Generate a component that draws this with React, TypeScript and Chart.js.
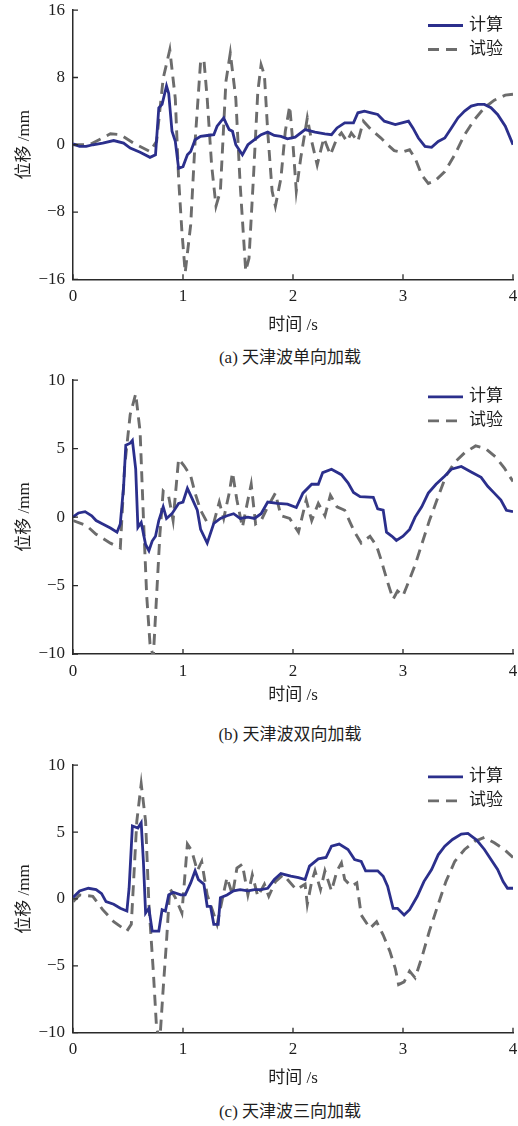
import React, { useEffect, useRef } from "react";
import { Chart, registerables } from "chart.js";

Chart.register(...registerables);

type P = [number, number];

// ---- labels ----
const seriesNames = ["计算", "试验"];
const xTitle = "时间 /s";
const yTitle = "位移 /mm";
const captions = ["(a) 天津波单向加载", "(b) 天津波双向加载", "(c) 天津波三向加载"];
const xTicks = [0, 1, 2, 3, 4];
const yTicksA = [-16, -8, 0, 8, 16];
const yTicksBC = [-10, -5, 0, 5, 10];

// ---- data: [time s, displacement mm] ----
const calcA: P[] = [
  [0, 0.1], [0.06, -0.2], [0.12, -0.2], [0.18, 0], [0.27, 0.2], [0.37, 0.5], [0.46, 0.2], [0.52, -0.4], [0.61, -0.9], [0.7, -1.5],
  [0.75, -1.2], [0.78, 4.4], [0.81, 4.8], [0.85, 7.0], [0.87, 6.1], [0.9, 1.6], [0.93, 0.4], [0.96, -2.8], [1.0, -2.6], [1.04, -1.2],
  [1.07, -0.8], [1.11, 0.6], [1.16, 1.0], [1.22, 1.1], [1.28, 1.2], [1.31, 2.2], [1.37, 3.2], [1.39, 2.6], [1.42, 1.8], [1.45, 1.6],
  [1.48, 0], [1.54, -1.2], [1.59, 0], [1.65, 0.6], [1.71, 1.2], [1.77, 1.5], [1.83, 1.1], [1.89, 1.0], [1.95, 0.7], [2.02, 0.9],
  [2.11, 1.8], [2.2, 1.5], [2.29, 1.3], [2.35, 1.2], [2.4, 2.0], [2.47, 2.6], [2.55, 2.6], [2.59, 3.8], [2.65, 4.0], [2.71, 3.8],
  [2.77, 3.6], [2.83, 2.8], [2.93, 2.4], [2.99, 2.6], [3.05, 2.8], [3.09, 2.0], [3.14, 0.8], [3.2, -0.2], [3.26, -0.3], [3.32, 0.4],
  [3.38, 0.8], [3.44, 2.0], [3.5, 3.2], [3.56, 4.0], [3.62, 4.6], [3.68, 4.8], [3.74, 4.8], [3.8, 4.4], [3.86, 3.6], [3.93, 2.2],
  [4.0, 0.0],
];
const testA: P[] = [
  [0, 0], [0.15, 0], [0.34, 1.3], [0.43, 1.2], [0.55, 0.2], [0.7, -0.8], [0.76, 0.4], [0.82, 7.9], [0.88, 11.3], [0.93, 5.5],
  [0.96, -4], [0.99, -10.3], [1.02, -15.2], [1.07, -9.5], [1.11, 0.4], [1.16, 9.9], [1.19, 10.1], [1.22, 5.5], [1.26, -2.4], [1.3, -7.3],
  [1.34, -5.5], [1.39, 7.5], [1.43, 10.9], [1.48, 5.5], [1.52, -4.8], [1.57, -15.0], [1.6, -13.5], [1.64, -4], [1.68, 6.3], [1.71, 9.5],
  [1.74, 8.3], [1.77, 1.6], [1.81, -5.5], [1.84, -7.3], [1.89, -4], [1.93, 1.6], [1.97, 4.6], [2.0, 0], [2.03, -5.5], [2.07, -1.6],
  [2.13, 3.2], [2.17, 0.4], [2.22, -2.4], [2.28, 0.8], [2.34, -1.2], [2.4, 0.8], [2.44, 1.4], [2.49, 0.4], [2.53, 1.4], [2.59, 0.4],
  [2.64, 2.8], [2.71, 1.8], [2.8, 0.8], [2.86, 0], [2.92, -0.7], [2.99, -0.9], [3.06, -0.6], [3.11, -1.6], [3.17, -3.6], [3.23, -4.6],
  [3.29, -4.3], [3.38, -3.2], [3.47, -1.2], [3.56, 1.2], [3.65, 3.0], [3.74, 4.4], [3.83, 5.3], [3.93, 5.9], [4.0, 6.0],
];
const calcB: P[] = [
  [0, 0], [0.05, 0.3], [0.11, 0.4], [0.17, 0.1], [0.21, -0.25], [0.27, -0.5], [0.34, -0.8], [0.4, -1.1], [0.43, -0.5], [0.46, 2.25],
  [0.48, 5.25], [0.52, 5.4], [0.54, 5.6], [0.57, 3.5], [0.59, -0.75], [0.62, -0.4], [0.66, -2.0], [0.69, -2.45], [0.72, -1.75], [0.75, -1.4],
  [0.78, -0.25], [0.82, 0.75], [0.85, -0.1], [0.9, 0.25], [0.96, 1.0], [1.0, 1.1], [1.04, 2.1], [1.08, 1.4], [1.13, 0.5], [1.16, -0.9],
  [1.22, -1.9], [1.28, -0.45], [1.34, -0.1], [1.4, 0.1], [1.46, 0.25], [1.52, -0.1], [1.59, 0], [1.65, -0.1], [1.71, 0.25], [1.77, 1.1],
  [1.86, 1.0], [1.95, 0.95], [2.03, 0.7], [2.09, 1.75], [2.17, 2.4], [2.23, 2.4], [2.27, 3.25], [2.35, 3.5], [2.44, 3.1], [2.5, 2.5],
  [2.55, 1.8], [2.61, 1.5], [2.73, 1.45], [2.77, 0.6], [2.82, 0.5], [2.85, -1.1], [2.9, -1.4], [2.94, -1.7], [3.0, -1.4], [3.06, -0.9],
  [3.11, 0], [3.17, 0.75], [3.23, 1.75], [3.3, 2.4], [3.38, 3.0], [3.44, 3.5], [3.53, 3.7], [3.62, 3.3], [3.71, 2.9], [3.77, 2.25],
  [3.83, 1.75], [3.89, 1.25], [3.94, 0.5], [4.0, 0.4],
];
const testB: P[] = [
  [0, -0.25], [0.12, -0.6], [0.21, -1.25], [0.34, -1.9], [0.43, -2.25], [0.47, 3.75], [0.52, 7.5], [0.57, 9.0], [0.61, 6.25], [0.64, 0],
  [0.67, -5.75], [0.7, -9.25], [0.73, -10.2], [0.76, -5.75], [0.79, -1.25], [0.82, 1.9], [0.87, 1.5], [0.91, -0.25], [0.96, 4.25], [1.01, 3.75],
  [1.07, 3.0], [1.11, 1.75], [1.16, 0.5], [1.22, -0.4], [1.28, -0.4], [1.33, 1.1], [1.37, -0.1], [1.42, 1.75], [1.45, 3.25], [1.49, 1.25],
  [1.54, -0.75], [1.59, 1.25], [1.62, 2.4], [1.66, -0.5], [1.71, -0.25], [1.77, 0.75], [1.84, 1.75], [1.89, 0.1], [1.97, -0.1], [2.05, -1.1],
  [2.12, 1.25], [2.17, -0.25], [2.23, 1.0], [2.29, 0.1], [2.34, 1.6], [2.4, 0.75], [2.47, 0.5], [2.52, -0.4], [2.56, -1.1], [2.62, -1.9],
  [2.7, -1.4], [2.76, -2.1], [2.8, -3.1], [2.86, -4.75], [2.91, -6.0], [2.95, -5.4], [3.0, -5.75], [3.05, -4.75], [3.11, -3.5], [3.17, -2.0],
  [3.24, -0.25], [3.32, 1.5], [3.39, 3.0], [3.47, 4.0], [3.56, 4.7], [3.66, 5.2], [3.75, 5.0], [3.84, 4.4], [3.92, 3.6], [4.0, 2.6],
];
const calcC: P[] = [
  [0, 0.1], [0.06, 0.6], [0.14, 0.8], [0.21, 0.7], [0.26, 0.4], [0.3, -0.2], [0.37, -0.4], [0.43, -0.7], [0.49, -0.9], [0.51, 0.8],
  [0.54, 5.45], [0.59, 5.3], [0.62, 5.7], [0.64, 2.8], [0.66, -1.05], [0.69, -0.7], [0.72, -2.4], [0.78, -2.4], [0.81, -0.8], [0.84, -0.9],
  [0.87, 0.3], [0.91, 0.5], [0.98, 0.3], [1.02, 0.3], [1.07, 1.2], [1.11, 2.1], [1.14, 1.45], [1.19, 1.1], [1.22, -0.55], [1.25, -0.55],
  [1.28, -1.9], [1.32, -1.9], [1.34, 0.1], [1.4, 0.3], [1.46, 0.6], [1.52, 0.7], [1.59, 0.6], [1.65, 0.7], [1.71, 0.7], [1.77, 0.8],
  [1.83, 1.45], [1.89, 1.9], [1.98, 1.7], [2.05, 1.6], [2.11, 1.45], [2.15, 2.45], [2.23, 3.0], [2.3, 3.1], [2.35, 3.95], [2.42, 4.1],
  [2.5, 3.7], [2.56, 2.95], [2.62, 2.8], [2.66, 2.1], [2.77, 2.1], [2.82, 1.7], [2.86, 0.95], [2.91, -0.7], [2.95, -0.7], [3.01, -1.2],
  [3.06, -0.8], [3.13, 0.2], [3.19, 1.3], [3.26, 2.2], [3.32, 3.3], [3.38, 3.95], [3.45, 4.45], [3.53, 4.85], [3.59, 4.9], [3.67, 4.4],
  [3.74, 3.7], [3.8, 2.95], [3.86, 2.2], [3.91, 1.3], [3.95, 0.8], [4.0, 0.8],
];
const testC: P[] = [
  [0, -0.2], [0.06, 0.3], [0.18, 0.2], [0.27, -0.8], [0.37, -1.7], [0.49, -2.4], [0.53, -1.9], [0.58, 5.8], [0.62, 8.6], [0.66, 5.8],
  [0.69, -0.4], [0.73, -5.4], [0.76, -9.7], [0.79, -10.5], [0.82, -6.7], [0.85, -3.2], [0.88, 0.8], [0.93, 0.1], [0.99, -1.05], [1.04, 4.1],
  [1.08, 3.6], [1.13, 2.1], [1.17, 2.8], [1.22, 0.3], [1.27, -0.9], [1.31, -1.9], [1.36, 0.1], [1.4, 1.6], [1.45, 0.3], [1.49, 2.3],
  [1.54, 2.6], [1.59, 0.3], [1.63, 1.8], [1.68, 0.2], [1.74, 1.1], [1.78, 0.2], [1.84, 1.3], [1.91, 1.8], [1.95, 1.45], [2.03, 0.7],
  [2.11, 1.1], [2.13, -0.4], [2.17, 1.3], [2.2, 2.1], [2.25, 0.7], [2.29, 2.1], [2.35, 0.6], [2.4, 2.1], [2.44, 2.7], [2.47, 1.45],
  [2.53, 0.95], [2.58, 1.2], [2.62, -1.2], [2.7, -2.2], [2.76, -1.7], [2.82, -2.7], [2.88, -3.9], [2.93, -5.2], [2.96, -6.4], [3.01, -6.2],
  [3.06, -5.4], [3.11, -5.9], [3.17, -4.4], [3.24, -2.4], [3.32, -0.4], [3.39, 1.3], [3.47, 2.8], [3.56, 3.7], [3.65, 4.3], [3.74, 4.6],
  [3.83, 4.2], [3.92, 3.7], [4.0, 3.1],
];

// ---- styles ----
const BLUE = "#2b2f8c";
const GRAY = "#6c6c6c";
const AXIS = "#2a2a2a";
const TEXT = "#1e1e1e";
const FAMILY = "'Liberation Serif', 'Noto Sans CJK SC', serif";

type PanelCfg = {
  top: number;
  h: number;
  padTop: number;
  xh: number;
  yTicks: number[];
  calc: P[];
  test: P[];
  caption: string;
  captionY: number;
  legendOff: number;
};

const panels: PanelCfg[] = [
  { top: 0, h: 336, padTop: 2.5, xh: 56.7, yTicks: yTicksA, calc: calcA, test: testA, caption: captions[0], captionY: 358, legendOff: 15.3 },
  { top: 370, h: 336, padTop: 5.8, xh: 52, yTicks: yTicksBC, calc: calcB, test: testB, caption: captions[1], captionY: 735, legendOff: 16.7 },
  { top: 755, h: 334, padTop: 0.8, xh: 56.3, yTicks: yTicksBC, calc: calcC, test: testC, caption: captions[2], captionY: 1112, legendOff: 11.7 },
];

const inwardTicks = {
  id: "inwardTicks",
  afterDatasetsDraw(chart: any) {
    const { ctx, chartArea, scales } = chart;
    ctx.save();
    ctx.strokeStyle = AXIS;
    ctx.lineWidth = 1.3;
    ctx.beginPath();
    for (const t of scales.x.ticks) {
      const px = scales.x.getPixelForValue(t.value);
      ctx.moveTo(px, chartArea.bottom);
      ctx.lineTo(px, chartArea.bottom - 5);
    }
    for (const t of scales.y.ticks) {
      const py = scales.y.getPixelForValue(t.value);
      ctx.moveTo(chartArea.left, py);
      ctx.lineTo(chartArea.left + 5, py);
    }
    ctx.stroke();
    ctx.restore();
  },
};

const makeLegend = (off: number) => ({
  id: "innerLegend",
  afterDraw(chart: any) {
    const { ctx, chartArea } = chart;
    const x1 = 428;
    const x2 = 463;
    ctx.save();
    chart.data.datasets.forEach((ds: any, i: number) => {
      const y = chartArea.top + off + i * 24;
      ctx.strokeStyle = ds.borderColor;
      ctx.lineWidth = ds.borderWidth;
      ctx.setLineDash(ds.borderDash || []);
      ctx.beginPath();
      ctx.moveTo(x1, y);
      ctx.lineTo(x2, y);
      ctx.stroke();
      ctx.setLineDash([]);
      ctx.fillStyle = TEXT;
      ctx.font = `17px ${FAMILY}`;
      ctx.textAlign = "left";
      ctx.textBaseline = "middle";
      ctx.fillText(ds.label, 469, y);
    });
    ctx.restore();
  },
});

const fmt = (v: number) => (v < 0 ? "\u2212" + Math.abs(v) : String(v));

function Panel({ cfg }: { cfg: PanelCfg }) {
  const ref = useRef<HTMLCanvasElement>(null);
  useEffect(() => {
    const tickFont = { family: FAMILY, size: 17 };
    const titleFont = { family: FAMILY, size: 17 };
    const yMin = cfg.yTicks[0];
    const yMax = cfg.yTicks[cfg.yTicks.length - 1];
    const chart = new Chart(ref.current as HTMLCanvasElement, {
      type: "line",
      data: {
        datasets: [
          {
            label: seriesNames[0],
            data: cfg.calc.map(([x, y]) => ({ x, y })),
            borderColor: BLUE,
            borderWidth: 2.8,
            pointRadius: 0,
            tension: 0,
            fill: false,
          },
          {
            label: seriesNames[1],
            data: cfg.test.map(([x, y]) => ({ x, y })),
            borderColor: GRAY,
            borderWidth: 2.9,
            borderDash: [11, 7],
            pointRadius: 0,
            tension: 0,
            fill: false,
          },
        ],
      },
      options: {
        responsive: false,
        animation: false,
        devicePixelRatio: 1,
        layout: { padding: { left: 0, right: 5, top: cfg.padTop, bottom: 0 } },
        plugins: {
          legend: { display: false },
          tooltip: { enabled: false },
          title: { display: false },
        },
        scales: {
          x: {
            type: "linear",
            min: 0,
            max: 4,
            afterBuildTicks: (s: any) => {
              s.ticks = xTicks.map((v) => ({ value: v }));
            },
            afterFit: (s: any) => {
              s.height = cfg.xh;
            },
            grid: { drawOnChartArea: false, drawTicks: true, tickLength: 7, tickColor: "rgba(0,0,0,0)" },
            border: { color: AXIS, width: 1.5 },
            ticks: { padding: 0, font: tickFont, color: TEXT, maxRotation: 0, autoSkip: false },
            title: { display: true, text: xTitle, font: titleFont, color: TEXT, padding: { top: 0, bottom: 0 } },
          },
          y: {
            type: "linear",
            min: yMin,
            max: yMax,
            afterBuildTicks: (s: any) => {
              s.ticks = cfg.yTicks.map((v) => ({ value: v }));
            },
            afterFit: (s: any) => {
              s.width = 73;
            },
            grid: { drawOnChartArea: false, drawTicks: true, tickLength: 8, tickColor: "rgba(0,0,0,0)" },
            border: { color: AXIS, width: 1.5 },
            ticks: { padding: 0, font: tickFont, color: TEXT, autoSkip: false, callback: (v: any) => fmt(Number(v)) },
            title: { display: true, text: yTitle, font: titleFont, color: TEXT, padding: { top: 14, bottom: 0 } },
          },
        },
      } as any,
      plugins: [inwardTicks, makeLegend(cfg.legendOff)],
    });
    return () => chart.destroy();
  }, []);
  return (
    <>
      <canvas
        ref={ref}
        width={518}
        height={cfg.h}
        style={{ position: "absolute", left: 0, top: cfg.top, width: 518, height: cfg.h }}
      />
      <div
        style={{
          position: "absolute",
          left: 190,
          width: 200,
          top: cfg.captionY - 11,
          height: 22,
          lineHeight: "22px",
          textAlign: "center",
          fontFamily: FAMILY,
          fontSize: 17,
          color: TEXT,
          whiteSpace: "nowrap",
        }}
      >
        {cfg.caption}
      </div>
    </>
  );
}

export default function App() {
  return (
    <div
      style={{
        position: "absolute",
        left: 0,
        top: 0,
        width: 518,
        height: 1126,
        overflow: "hidden",
        background: "#ffffff",
      }}
    >
      {panels.map((p, i) => (
        <Panel key={i} cfg={p} />
      ))}
    </div>
  );
}
